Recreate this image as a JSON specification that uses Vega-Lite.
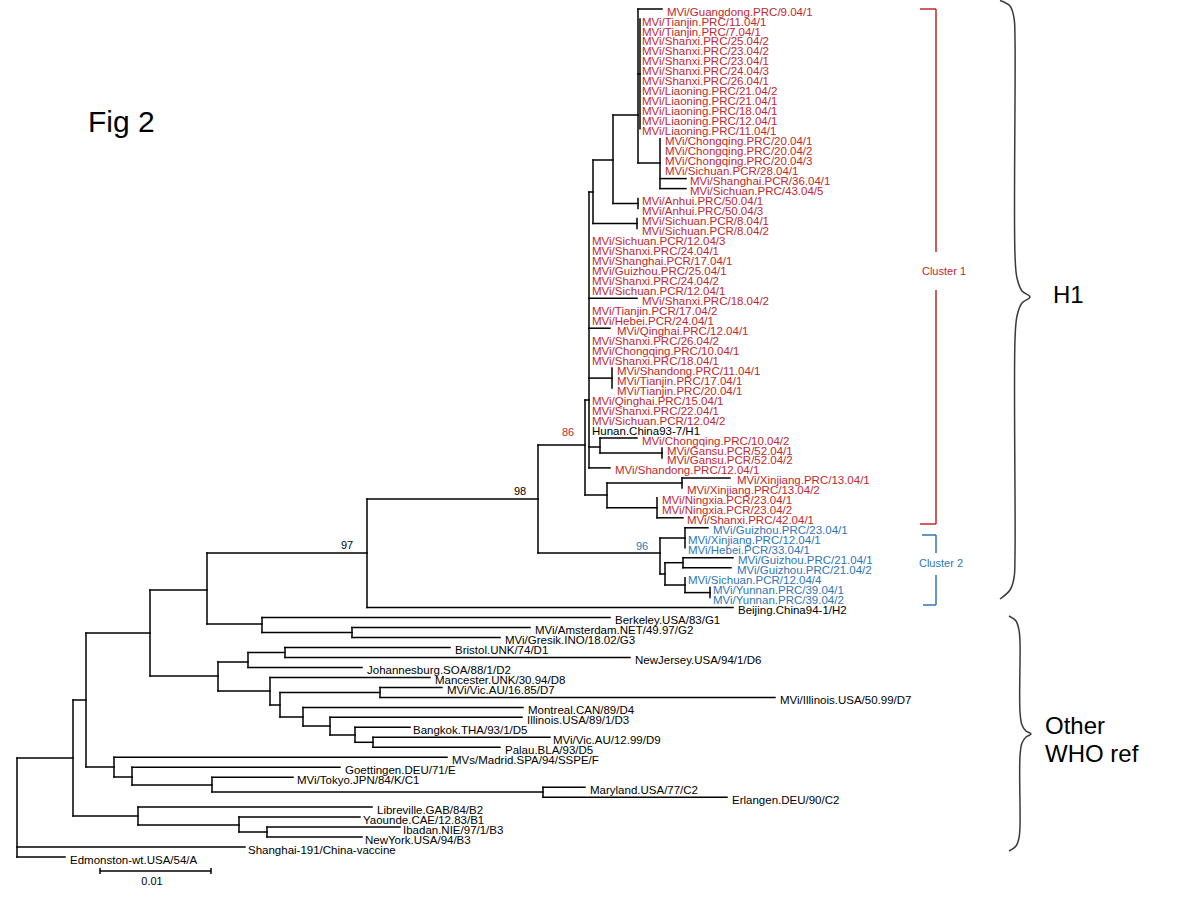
{
  "$schema": "https://vega.github.io/schema/vega-lite/v6.json",
  "width": 1200,
  "height": 900,
  "autosize": {"type": "none"},
  "padding": 0,
  "background": "white",
  "config": {"view": {"stroke": null}, "text": {"font": "Liberation Sans"}},
  "datasets": {
    "h": [
      {"x":17,"x2":73,"y":758},{"x":17,"x2":245,"y":847},{"x":17,"x2":65,"y":857},
      {"x":73,"x2":86,"y":700},{"x":73,"x2":138,"y":816},
      {"x":86,"x2":150,"y":633},{"x":86,"x2":114,"y":767},
      {"x":150,"x2":207,"y":590},{"x":150,"x2":218,"y":676},
      {"x":207,"x2":367,"y":553},{"x":207,"x2":262,"y":624},
      {"x":367,"x2":538,"y":499},{"x":367,"x2":733,"y":607.6},
      {"x":538,"x2":585,"y":445},{"x":538,"x2":660,"y":553},
      {"x":585,"x2":589,"y":400},{"x":585,"x2":607,"y":495},
      {"x":589,"x2":593,"y":192},{"x":589,"x2":637,"y":298.3},{"x":589,"x2":610,"y":328.2},
      {"x":589,"x2":612,"y":378.1},{"x":589,"x2":600,"y":447},{"x":589,"x2":610,"y":467.9},
      {"x":593,"x2":613,"y":160},{"x":593,"x2":637,"y":223.5},
      {"x":613,"x2":638,"y":115},{"x":613,"x2":638,"y":203.5},
      {"x":638,"x2":662,"y":9},{"x":638,"x2":640,"y":74},{"x":638,"x2":660,"y":163},
      {"x":660,"x2":686,"y":178.6},{"x":660,"x2":686,"y":188.6},
      {"x":600,"x2":637,"y":438},{"x":600,"x2":662,"y":453},
      {"x":607,"x2":682,"y":483},{"x":607,"x2":657,"y":507.8},
      {"x":682,"x2":730,"y":477.9},{"x":657,"x2":683,"y":517.8},
      {"x":660,"x2":685,"y":538},{"x":660,"x2":665,"y":574},
      {"x":685,"x2":708,"y":527.8},
      {"x":665,"x2":683,"y":562.7},{"x":665,"x2":685,"y":585},
      {"x":683,"x2":733,"y":557.7},{"x":683,"x2":731,"y":567.7},
      {"x":685,"x2":710,"y":592.6},
      {"x":262,"x2":610,"y":617.6},{"x":262,"x2":352,"y":632.5},
      {"x":352,"x2":530,"y":627.5},{"x":352,"x2":500,"y":637.5},
      {"x":218,"x2":248,"y":662},{"x":218,"x2":270,"y":691},
      {"x":248,"x2":285,"y":652.5},{"x":248,"x2":362,"y":667.4},
      {"x":285,"x2":450,"y":647.5},{"x":285,"x2":630,"y":657.5},
      {"x":270,"x2":430,"y":677.4},{"x":270,"x2":280,"y":705},
      {"x":280,"x2":380,"y":692.4},{"x":280,"x2":303,"y":717},
      {"x":380,"x2":442,"y":687.4},{"x":380,"x2":775,"y":697.4},
      {"x":303,"x2":523,"y":707.4},{"x":303,"x2":330,"y":726},
      {"x":330,"x2":522,"y":717.3},{"x":330,"x2":355,"y":735},
      {"x":355,"x2":410,"y":727.3},{"x":355,"x2":373,"y":742.3},
      {"x":373,"x2":550,"y":737.3},{"x":373,"x2":500,"y":747.3},
      {"x":114,"x2":447,"y":757.2},{"x":114,"x2":132,"y":777},
      {"x":132,"x2":340,"y":767.2},{"x":132,"x2":212,"y":785},
      {"x":212,"x2":293,"y":777.2},{"x":212,"x2":543,"y":792},
      {"x":543,"x2":585,"y":787.2},{"x":543,"x2":727,"y":797.2},
      {"x":138,"x2":372,"y":807.1},{"x":138,"x2":239,"y":825},
      {"x":239,"x2":360,"y":817.1},{"x":239,"x2":267,"y":832},
      {"x":267,"x2":400,"y":827.1},{"x":267,"x2":362,"y":837.1}
    ],
    "v": [
      {"x":17,"y":758,"y2":857},{"x":73,"y":700,"y2":816},{"x":86,"y":633,"y2":767},
      {"x":150,"y":590,"y2":676},{"x":207,"y":553,"y2":624},{"x":367,"y":499,"y2":607.6},
      {"x":538,"y":445,"y2":553},{"x":585,"y":400,"y2":495},{"x":589,"y":192,"y2":467.9},
      {"x":593,"y":160,"y2":223.5},{"x":613,"y":115,"y2":203.5},{"x":638,"y":9,"y2":163},
      {"x":640,"y":19,"y2":128.7},{"x":660,"y":138.7,"y2":188.6},{"x":638,"y":198.5,"y2":208.5},
      {"x":637,"y":218.5,"y2":228.4},{"x":612,"y":368.1,"y2":388.1},{"x":600,"y":438,"y2":453},
      {"x":662,"y":448,"y2":457.9},{"x":607,"y":483,"y2":507.8},{"x":682,"y":477.9,"y2":487.9},
      {"x":657,"y":497.8,"y2":517.8},{"x":660,"y":538,"y2":574},{"x":685,"y":527.8,"y2":547.7},
      {"x":665,"y":562.7,"y2":585},{"x":683,"y":557.7,"y2":567.7},{"x":685,"y":577.7,"y2":592.6},
      {"x":710,"y":587.6,"y2":597.6},{"x":262,"y":617.6,"y2":632.5},{"x":352,"y":627.5,"y2":637.5},
      {"x":218,"y":662,"y2":691},{"x":248,"y":652.5,"y2":667.4},{"x":285,"y":647.5,"y2":657.5},
      {"x":270,"y":677.4,"y2":705},{"x":280,"y":692.4,"y2":717},{"x":380,"y":687.4,"y2":697.4},
      {"x":303,"y":707.4,"y2":726},{"x":330,"y":717.3,"y2":735},{"x":355,"y":727.3,"y2":742.3},
      {"x":373,"y":737.3,"y2":747.3},{"x":114,"y":757.2,"y2":777},{"x":132,"y":767.2,"y2":785},
      {"x":212,"y":777.2,"y2":792},{"x":543,"y":787.2,"y2":797.2},{"x":138,"y":807.1,"y2":825},
      {"x":239,"y":817.1,"y2":832},{"x":267,"y":827.1,"y2":837.1}
    ],
    "leaves": [
      {"name":"MVi/Guangdong.PRC/9.04/1","x":667,"y":9,"grp":"c1"},
      {"name":"MVi/Tianjin.PRC/11.04/1","x":642,"y":19,"grp":"c1"},
      {"name":"MVi/Tianjin.PRC/7.04/1","x":642,"y":29,"grp":"c1"},
      {"name":"MVi/Shanxi.PRC/25.04/2","x":642,"y":38.9,"grp":"c1"},
      {"name":"MVi/Shanxi.PRC/23.04/2","x":642,"y":48.9,"grp":"c1"},
      {"name":"MVi/Shanxi.PRC/23.04/1","x":642,"y":58.9,"grp":"c1"},
      {"name":"MVi/Shanxi.PRC/24.04/3","x":642,"y":68.9,"grp":"c1"},
      {"name":"MVi/Shanxi.PRC/26.04/1","x":642,"y":78.8,"grp":"c1"},
      {"name":"MVi/Liaoning.PRC/21.04/2","x":642,"y":88.8,"grp":"c1"},
      {"name":"MVi/Liaoning.PRC/21.04/1","x":642,"y":98.8,"grp":"c1"},
      {"name":"MVi/Liaoning.PRC/18.04/1","x":642,"y":108.8,"grp":"c1"},
      {"name":"MVi/Liaoning.PRC/12.04/1","x":642,"y":118.7,"grp":"c1"},
      {"name":"MVi/Liaoning.PRC/11.04/1","x":642,"y":128.7,"grp":"c1"},
      {"name":"MVi/Chongqing.PRC/20.04/1","x":665,"y":138.7,"grp":"c1"},
      {"name":"MVi/Chongqing.PRC/20.04/2","x":665,"y":148.7,"grp":"c1"},
      {"name":"MVi/Chongqing.PRC/20.04/3","x":665,"y":158.6,"grp":"c1"},
      {"name":"MVi/Sichuan.PCR/28.04/1","x":665,"y":168.6,"grp":"c1"},
      {"name":"MVi/Shanghai.PCR/36.04/1","x":690,"y":178.6,"grp":"c1"},
      {"name":"MVi/Sichuan.PRC/43.04/5","x":690,"y":188.6,"grp":"c1"},
      {"name":"MVi/Anhui.PRC/50.04/1","x":642,"y":198.5,"grp":"c1"},
      {"name":"MVi/Anhui.PRC/50.04/3","x":642,"y":208.5,"grp":"c1"},
      {"name":"MVi/Sichuan.PCR/8.04/1","x":642,"y":218.5,"grp":"c1"},
      {"name":"MVi/Sichuan.PCR/8.04/2","x":642,"y":228.4,"grp":"c1"},
      {"name":"MVi/Sichuan.PCR/12.04/3","x":592,"y":238.4,"grp":"c1"},
      {"name":"MVi/Shanxi.PRC/24.04/1","x":592,"y":248.4,"grp":"c1"},
      {"name":"MVi/Shanghai.PCR/17.04/1","x":592,"y":258.4,"grp":"c1"},
      {"name":"MVi/Guizhou.PRC/25.04/1","x":592,"y":268.4,"grp":"c1"},
      {"name":"MVi/Shanxi.PRC/24.04/2","x":592,"y":278.3,"grp":"c1"},
      {"name":"MVi/Sichuan.PCR/12.04/1","x":592,"y":288.3,"grp":"c1"},
      {"name":"MVi/Shanxi.PRC/18.04/2","x":642,"y":298.3,"grp":"c1"},
      {"name":"MVi/Tianjin.PCR/17.04/2","x":592,"y":308.3,"grp":"c1"},
      {"name":"MVi/Hebei.PCR/24.04/1","x":592,"y":318.2,"grp":"c1"},
      {"name":"MVi/Qinghai.PRC/12.04/1","x":617,"y":328.2,"grp":"c1"},
      {"name":"MVi/Shanxi.PRC/26.04/2","x":592,"y":338.2,"grp":"c1"},
      {"name":"MVi/Chongqing.PRC/10.04/1","x":592,"y":348.2,"grp":"c1"},
      {"name":"MVi/Shanxi.PRC/18.04/1","x":592,"y":358.2,"grp":"c1"},
      {"name":"MVi/Shandong.PRC/11.04/1","x":617,"y":368.1,"grp":"c1"},
      {"name":"MVi/Tianjin.PRC/17.04/1","x":617,"y":378.1,"grp":"c1"},
      {"name":"MVi/Tianjin.PRC/20.04/1","x":617,"y":388.1,"grp":"c1"},
      {"name":"MVi/Qinghai.PRC/15.04/1","x":592,"y":398.1,"grp":"c1"},
      {"name":"MVi/Shanxi.PRC/22.04/1","x":592,"y":408,"grp":"c1"},
      {"name":"MVi/Sichuan.PCR/12.04/2","x":592,"y":418,"grp":"c1"},
      {"name":"Hunan.China93-7/H1","x":592,"y":428,"grp":"ref"},
      {"name":"MVi/Chongqing.PRC/10.04/2","x":642,"y":438,"grp":"c1"},
      {"name":"MVi/Gansu.PCR/52.04/1","x":667,"y":448,"grp":"c1"},
      {"name":"MVi/Gansu.PCR/52.04/2","x":667,"y":457.9,"grp":"c1"},
      {"name":"MVi/Shandong.PRC/12.04/1","x":615,"y":467.9,"grp":"c1"},
      {"name":"MVi/Xinjiang.PRC/13.04/1","x":737,"y":477.9,"grp":"c1"},
      {"name":"MVi/Xinjiang.PRC/13.04/2","x":687,"y":487.9,"grp":"c1"},
      {"name":"MVi/Ningxia.PCR/23.04/1","x":662,"y":497.8,"grp":"c1"},
      {"name":"MVi/Ningxia.PCR/23.04/2","x":662,"y":507.8,"grp":"c1"},
      {"name":"MVi/Shanxi.PRC/42.04/1","x":687,"y":517.8,"grp":"c1"},
      {"name":"MVi/Guizhou.PRC/23.04/1","x":713,"y":527.8,"grp":"c2"},
      {"name":"MVi/Xinjiang.PRC/12.04/1","x":688,"y":537.7,"grp":"c2"},
      {"name":"MVi/Hebei.PCR/33.04/1","x":688,"y":547.7,"grp":"c2"},
      {"name":"MVi/Guizhou.PRC/21.04/1","x":738,"y":557.7,"grp":"c2"},
      {"name":"MVi/Guizhou.PRC/21.04/2","x":737,"y":567.7,"grp":"c2"},
      {"name":"MVi/Sichuan.PCR/12.04/4","x":688,"y":577.7,"grp":"c2"},
      {"name":"MVi/Yunnan.PRC/39.04/1","x":713,"y":587.6,"grp":"c2"},
      {"name":"MVi/Yunnan.PRC/39.04/2","x":713,"y":597.6,"grp":"c2"},
      {"name":"Beijing.China94-1/H2","x":738,"y":607.6,"grp":"ref"},
      {"name":"Berkeley.USA/83/G1","x":615,"y":617.6,"grp":"ref"},
      {"name":"MVi/Amsterdam.NET/49.97/G2","x":535,"y":627.5,"grp":"ref"},
      {"name":"MVi/Gresik.INO/18.02/G3","x":505,"y":637.5,"grp":"ref"},
      {"name":"Bristol.UNK/74/D1","x":455,"y":647.5,"grp":"ref"},
      {"name":"NewJersey.USA/94/1/D6","x":635,"y":657.5,"grp":"ref"},
      {"name":"Johannesburg.SOA/88/1/D2","x":367,"y":667.4,"grp":"ref"},
      {"name":"Mancester.UNK/30.94/D8","x":435,"y":677.4,"grp":"ref"},
      {"name":"MVi/Vic.AU/16.85/D7","x":447,"y":687.4,"grp":"ref"},
      {"name":"MVi/Illinois.USA/50.99/D7","x":780,"y":697.4,"grp":"ref"},
      {"name":"Montreal.CAN/89/D4","x":528,"y":707.4,"grp":"ref"},
      {"name":"Illinois.USA/89/1/D3","x":527,"y":717.3,"grp":"ref"},
      {"name":"Bangkok.THA/93/1/D5","x":413,"y":727.3,"grp":"ref"},
      {"name":"MVi/Vic.AU/12.99/D9","x":553,"y":737.3,"grp":"ref"},
      {"name":"Palau.BLA/93/D5","x":505,"y":747.3,"grp":"ref"},
      {"name":"MVs/Madrid.SPA/94/SSPE/F","x":452,"y":757.2,"grp":"ref"},
      {"name":"Goettingen.DEU/71/E","x":345,"y":767.2,"grp":"ref"},
      {"name":"MVi/Tokyo.JPN/84/K/C1","x":297,"y":777.2,"grp":"ref"},
      {"name":"Maryland.USA/77/C2","x":590,"y":787.2,"grp":"ref"},
      {"name":"Erlangen.DEU/90/C2","x":732,"y":797.2,"grp":"ref"},
      {"name":"Libreville.GAB/84/B2","x":377,"y":807.1,"grp":"ref"},
      {"name":"Yaounde.CAE/12.83/B1","x":363,"y":817.1,"grp":"ref"},
      {"name":"Ibadan.NIE/97/1/B3","x":403,"y":827.1,"grp":"ref"},
      {"name":"NewYork.USA/94/B3","x":365,"y":837.1,"grp":"ref"},
      {"name":"Shanghai-191/China-vaccine","x":248,"y":847,"grp":"ref"},
      {"name":"Edmonston-wt.USA/54/A","x":70,"y":857,"grp":"ref"}
    ],
    "small": [
      {"t":"86","x":568,"y":433,"grp":"c1"},
      {"t":"96","x":642,"y":547,"grp":"c2"},
      {"t":"98","x":520,"y":492,"grp":"ref"},
      {"t":"97","x":347,"y":546,"grp":"ref"},
      {"t":"Cluster 1","x":944,"y":272,"grp":"c1"},
      {"t":"Cluster 2","x":941,"y":564,"grp":"c2"},
      {"t":"0.01","x":152,"y":882,"grp":"ref"}
    ],
    "fig": [
      {"t":"Fig 2","x":88,"y":123}
    ],
    "big": [
      {"t":"H1","x":1053,"y":296},
      {"t":"Other","x":1045,"y":727},
      {"t":"WHO ref","x":1045,"y":755}
    ],
    "seg": [
      {"x":936,"x2":936,"y":9,"y2":252,"grp":"c1"},
      {"x":936,"x2":936,"y":290,"y2":524,"grp":"c1"},
      {"x":920,"x2":936,"y":9,"y2":9,"grp":"c1"},
      {"x":920,"x2":936,"y":524,"y2":524,"grp":"c1"},
      {"x":936,"x2":936,"y":535,"y2":553,"grp":"c2"},
      {"x":936,"x2":936,"y":575,"y2":605,"grp":"c2"},
      {"x":922,"x2":936,"y":535,"y2":535,"grp":"c2"},
      {"x":923,"x2":936,"y":605,"y2":605,"grp":"c2"},
      {"x":100,"x2":211,"y":871,"y2":871,"grp":"ref"},
      {"x":100,"x2":100,"y":868,"y2":874,"grp":"ref"},
      {"x":211,"x2":211,"y":868,"y2":874,"grp":"ref"}
    ],
    "brace": [
      {"b":"H1","i":0,"x":1000,"y":0.5},{"b":"H1","i":1,"x":1010,"y":6},{"b":"H1","i":2,"x":1014,"y":18},
      {"b":"H1","i":3,"x":1015,"y":40},{"b":"H1","i":4,"x":1015,"y":255},{"b":"H1","i":5,"x":1017,"y":278},
      {"b":"H1","i":6,"x":1022,"y":291},{"b":"H1","i":7,"x":1030,"y":297},{"b":"H1","i":8,"x":1022,"y":303},
      {"b":"H1","i":9,"x":1017,"y":316},{"b":"H1","i":10,"x":1015,"y":340},{"b":"H1","i":11,"x":1015,"y":555},
      {"b":"H1","i":12,"x":1014,"y":578},{"b":"H1","i":13,"x":1010,"y":590},{"b":"H1","i":14,"x":1000,"y":599},
      {"b":"WHO","i":0,"x":1009,"y":616},{"b":"WHO","i":1,"x":1016,"y":621},{"b":"WHO","i":2,"x":1019,"y":630},
      {"b":"WHO","i":3,"x":1020,"y":642},{"b":"WHO","i":4,"x":1020,"y":712},{"b":"WHO","i":5,"x":1022,"y":725},
      {"b":"WHO","i":6,"x":1026,"y":731},{"b":"WHO","i":7,"x":1031,"y":734},{"b":"WHO","i":8,"x":1026,"y":737},
      {"b":"WHO","i":9,"x":1022,"y":743},{"b":"WHO","i":10,"x":1020,"y":756},{"b":"WHO","i":11,"x":1020,"y":826},
      {"b":"WHO","i":12,"x":1019,"y":838},{"b":"WHO","i":13,"x":1016,"y":846},{"b":"WHO","i":14,"x":1009,"y":851}
    ]
  },
  "layer": [
    {
      "data": {"name": "h"},
      "mark": {"type": "rule", "strokeWidth": 1.5, "color": "#000000", "strokeCap": "square"},
      "encoding": {
        "x": {"field": "x", "type": "quantitative", "scale": {"domain": [0, 1200], "nice": false, "zero": false}, "axis": null},
        "x2": {"field": "x2"},
        "y": {"field": "y", "type": "quantitative", "scale": {"domain": [0, 900], "reverse": true, "nice": false, "zero": false}, "axis": null}
      }
    },
    {
      "data": {"name": "v"},
      "mark": {"type": "rule", "strokeWidth": 1.5, "color": "#000000", "strokeCap": "square"},
      "encoding": {
        "x": {"field": "x", "type": "quantitative", "axis": null},
        "y": {"field": "y", "type": "quantitative", "axis": null},
        "y2": {"field": "y2"}
      }
    },
    {
      "data": {"name": "seg"},
      "mark": {"type": "rule", "strokeWidth": 1.5},
      "encoding": {
        "x": {"field": "x", "type": "quantitative", "axis": null},
        "x2": {"field": "x2"},
        "y": {"field": "y", "type": "quantitative", "axis": null},
        "y2": {"field": "y2"},
        "color": {"field": "grp", "type": "nominal", "scale": {"domain": ["c1", "c2", "ref"], "range": ["#c0282d", "#2f75b5", "#000000"]}, "legend": null}
      }
    },
    {
      "data": {"name": "brace"},
      "mark": {"type": "line", "strokeWidth": 1.5, "color": "#3a3a3a", "interpolate": "catmull-rom"},
      "encoding": {
        "x": {"field": "x", "type": "quantitative", "axis": null},
        "y": {"field": "y", "type": "quantitative", "axis": null},
        "order": {"field": "i", "type": "quantitative"},
        "detail": {"field": "b", "type": "nominal"}
      }
    },
    {
      "data": {"name": "leaves"},
      "mark": {"type": "text", "align": "left", "baseline": "middle", "dy": 3.5, "fontSize": 11.5},
      "encoding": {
        "x": {"field": "x", "type": "quantitative", "axis": null},
        "y": {"field": "y", "type": "quantitative", "axis": null},
        "text": {"field": "name"},
        "color": {"field": "grp", "type": "nominal", "legend": null}
      }
    },
    {
      "data": {"name": "small"},
      "mark": {"type": "text", "align": "center", "baseline": "middle", "fontSize": 11},
      "encoding": {
        "x": {"field": "x", "type": "quantitative", "axis": null},
        "y": {"field": "y", "type": "quantitative", "axis": null},
        "text": {"field": "t"},
        "color": {"field": "grp", "type": "nominal", "legend": null}
      }
    },
    {
      "data": {"name": "fig"},
      "mark": {"type": "text", "align": "left", "baseline": "middle", "fontSize": 30, "color": "#000000"},
      "encoding": {
        "x": {"field": "x", "type": "quantitative", "axis": null},
        "y": {"field": "y", "type": "quantitative", "axis": null},
        "text": {"field": "t"}
      }
    },
    {
      "data": {"name": "big"},
      "mark": {"type": "text", "align": "left", "baseline": "middle", "fontSize": 24, "color": "#000000"},
      "encoding": {
        "x": {"field": "x", "type": "quantitative", "axis": null},
        "y": {"field": "y", "type": "quantitative", "axis": null},
        "text": {"field": "t"}
      }
    }
  ]
}
